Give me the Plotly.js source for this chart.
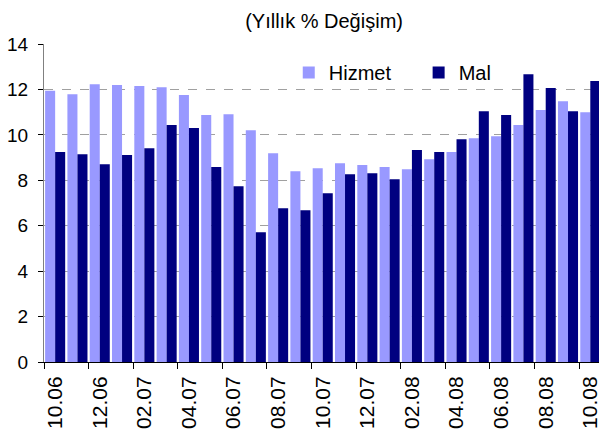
<!DOCTYPE html>
<html>
<head>
<meta charset="utf-8">
<script src="https://cdn.plot.ly/plotly-3.0.1.min.js"></script>
<style>html,body{margin:0;padding:0;background:#fff;}#chart{width:599px;height:432px;}</style>
</head>
<body>
<div id="chart"></div>
<script>
const months = ["10.06","11.06","12.06","01.07","02.07","03.07","04.07","05.07","06.07","07.07","08.07","09.07",
  "10.07","11.07","12.07","01.08","02.08","03.08","04.08","05.08","06.08","07.08","08.08","09.08","10.08"];
const hizmet = [11.94,11.79,12.23,12.19,12.15,12.10,11.75,10.87,10.91,10.20,9.19,8.40,
  8.53,8.75,8.67,8.58,8.49,8.93,9.24,9.85,9.94,10.43,11.09,11.48,11.00];
const mal = [9.24,9.15,8.71,9.11,9.41,10.43,10.30,8.58,7.74,5.71,6.77,6.68,
  7.43,8.27,8.31,8.05,9.33,9.24,9.81,11.04,10.87,12.67,12.06,11.04,12.37];

const fam = "Liberation Sans, Arial, sans-serif";
const f = (s) => ({family: fam, size: s, color: "#000"});

const data = [
  {type: "bar", name: "Hizmet", x: months, y: hizmet, marker: {color: "#9999FF"}, legend: "legend"},
  {type: "bar", name: "Mal", x: months, y: mal, marker: {color: "#000080"}, legend: "legend2"}
];

const legBase = {orientation: "h", yanchor: "middle", xanchor: "left", y: 0.91,
  bgcolor: "rgba(0,0,0,0)", borderwidth: 0, font: f(20)};

const layout = {
  width: 599, height: 432,
  margin: {l: 44, r: 0, t: 44, b: 70, pad: 0},
  paper_bgcolor: "#fff", plot_bgcolor: "#fff",
  font: f(20),
  barmode: "group", bargap: 0.1, bargroupgap: 0,
  title: {text: "(Yıllık % Değişim)", font: f(20),
    x: 0.541, xref: "container", xanchor: "center", y: 0.951, yref: "container", yanchor: "middle"},
  showlegend: true,
  legend: Object.assign({}, legBase, {x: 0.441}),
  legend2: Object.assign({}, legBase, {x: 0.675}),
  xaxis: {type: "category", range: [-0.5, 24.39], tickson: "boundaries",
    tickmode: "linear", tick0: 0, dtick: 2, tickangle: -90,
    ticks: "outside", ticklen: 6, tickcolor: "#000", tickwidth: 1,
    showline: true, linecolor: "#000", linewidth: 1, showgrid: false, zeroline: false,
    automargin: false, ticklabelstandoff: 5, tickfont: f(21)},
  yaxis: {range: [0, 14], dtick: 2, tick0: 0, ticks: "outside", ticklen: 5, tickcolor: "#000",
    showline: true, linecolor: "#808080", linewidth: 1,
    showgrid: true, gridcolor: "#a0a0a0", griddash: "dash", gridwidth: 1, zeroline: false,
    automargin: false, ticklabelstandoff: 6, tickfont: f(19)}
};

Plotly.newPlot("chart", data, layout, {displayModeBar: false, staticPlot: true});
</script>
</body>
</html>
